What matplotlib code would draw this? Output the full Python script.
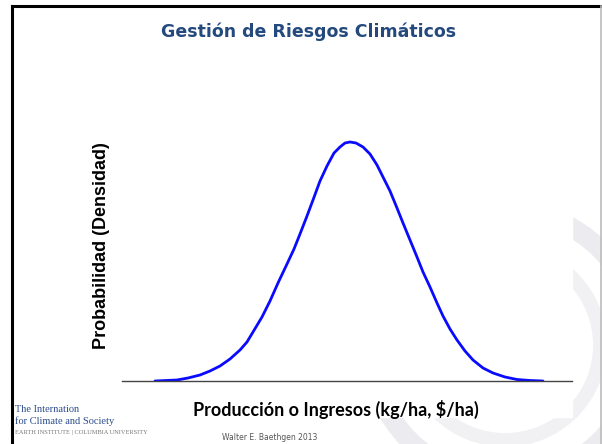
import numpy as np
import matplotlib
matplotlib.use('Agg')
import matplotlib.pyplot as plt
from matplotlib.patches import Rectangle, Arc

# curve (production units, relative density)
produccion = [33, 44, 55, 66, 78, 88, 98, 108, 118, 125, 131, 140, 148, 156,
              165, 172, 178, 185, 191, 198, 205, 212, 218, 223, 228, 234, 241,
              248, 255, 262, 268, 275, 281, 288, 295, 301, 308, 315, 321, 328,
              335, 343, 351, 361, 371, 383, 395, 408, 421]
densidad = [0, 0.5, 1, 3, 6, 10, 15, 22, 31, 39, 49, 64, 80, 98,
            117, 132, 147, 165, 181, 200, 215, 228, 234, 238, 239, 238, 234,
            227, 216, 202, 190, 173, 158, 141, 124, 109, 94, 78, 65, 52,
            41, 30, 21, 13, 8, 4, 1.5, 0.5, 0]

titulo = 'Gestión de Riesgos Climáticos'
eje_x = 'Producción o Ingresos (kg/ha, $/ha)'
eje_y = 'Probabilidad (Densidad)'

fig = plt.figure(figsize=(6.02, 4.44), dpi=100)

# slide background: frame, watermark, white content box
bg = fig.add_axes([0, 0, 1, 1])
bg.set_xlim(0, 602)
bg.set_ylim(444, 0)
bg.axis('off')
bg.add_patch(Arc((505, 345), 270, 270, lw=14, color='#ececf0'))
bg.add_patch(Arc((505, 345), 190, 190, lw=10, color='#f1f1f4'))
bg.add_patch(Rectangle((12, 0), 560, 417, color='white', zorder=2))
bg.plot([12, 12], [6, 444], color='black', lw=2.2, zorder=3)
bg.plot([12, 602], [6, 6], color='black', lw=2.2, zorder=3)
bg.plot([600.5, 600.5], [6, 444], color='#bbbbbb', lw=1.2, zorder=3)

bg.text(309, 32, titulo, ha='center', va='center', fontsize=12.5,
        fontweight='bold', color='#24497c', family='DejaVu Sans', zorder=4)
bg.text(336, 409, eje_x, ha='center', va='center', fontsize=13,
        fontweight='bold', color='black', family='Lato', zorder=4)
bg.text(101, 246, eje_y, ha='center', va='center', rotation=90, fontsize=13,
        fontweight='bold', color='black', family='Liberation Sans', zorder=4)

bg.text(15, 409, 'The Internation', fontsize=7.5, color='#2b4c8c',
        family='Liberation Serif', va='center', zorder=4)
bg.text(15, 421, 'for Climate and Society', fontsize=7.5, color='#2b4c8c',
        family='Liberation Serif', va='center', zorder=4)
bg.text(15, 432, 'EARTH INSTITUTE | COLUMBIA UNIVERSITY', fontsize=4.6,
        color='#777777', family='Liberation Serif', va='center', zorder=4)
bg.text(270, 437, 'Walter E. Baethgen 2013', fontsize=5.5, color='#555555',
        ha='center', va='center', family='DejaVu Sans', zorder=4)

ax = fig.add_axes([122/602, 63/444, 450/602, 251/444])
ax.patch.set_alpha(0)
ax.plot(produccion, densidad, color='#0a0aff', lw=2.0,
        solid_capstyle='round', solid_joinstyle='round')
ax.set_xlim(0, 450)
ax.set_ylim(0, 251)
for s in ['top', 'right', 'left']:
    ax.spines[s].set_visible(False)
ax.spines['bottom'].set_color('#444444')
ax.spines['bottom'].set_linewidth(1)
ax.set_xticks([])
ax.set_yticks([])

plt.savefig('out.png', dpi=100)
